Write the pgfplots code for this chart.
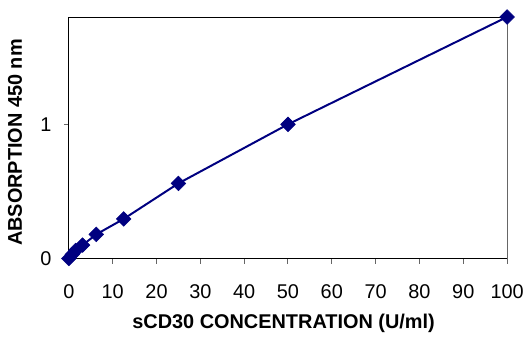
\documentclass[border=0pt]{standalone}
\usepackage{pgfplots}
\pgfplotsset{compat=1.18}
\usepackage{fontspec}
\setmainfont{Liberation Sans}
\definecolor{navy}{RGB}{0,0,128}
\begin{document}
\begin{tikzpicture}
\begin{axis}[
  scale only axis,
  width=439bp, height=242bp,
  xmin=0, xmax=100, ymin=0, ymax=1.8,
  xtick={0,10,...,100}, ytick={0,1},
  axis line style={draw=none},
  tick style={draw=gray!80!black, line width=1pt},
  tick align=outside,
  major tick length=5bp,
  xtick pos=bottom, ytick pos=left,
  /pgf/number format/assume math mode=true,
  tick label style={font=\fontsize{20}{24}\selectfont},
  xticklabel style={yshift=-18bp},
  yticklabel style={xshift=-9bp},
  xlabel={\textbf{sCD30 CONCENTRATION (U/ml)}},
  ylabel={\textbf{ABSORPTION 450 nm}},
  label style={font=\fontsize{20}{24}\selectfont},
  xlabel style={at={(axis description cs:0.49,-0.27)}, anchor=center},
  ylabel style={at={(axis description cs:-0.123,0.48)}, anchor=center},
  clip=false,
]
\draw[gray!80!black, line width=1pt] (rel axis cs:1,0) -- (rel axis cs:1,1);
\draw[black, line width=0.8pt] (rel axis cs:0,0) -- (rel axis cs:1,0);
\draw[black, line width=0.8pt] (rel axis cs:0,0) -- (rel axis cs:0,1) -- (rel axis cs:1,1);
\addplot[navy, line width=2pt, mark=square*, mark size=5.2bp, mark options={rotate=45, fill=navy, draw=navy, line width=0.5pt}] coordinates {
(0,0.0) (0.78,0.03) (1.56,0.06) (3.125,0.10) (6.25,0.18) (12.5,0.295) (25,0.56) (50,1.0) (100,1.8)
};
\coordinate (ll) at (rel axis cs:0,0);
\coordinate (ur) at (rel axis cs:1,1);
\end{axis}
\path ([shift={(-69bp,-77bp)}]ll) rectangle ([shift={(19bp,17bp)}]ur);
\end{tikzpicture}
\end{document}
